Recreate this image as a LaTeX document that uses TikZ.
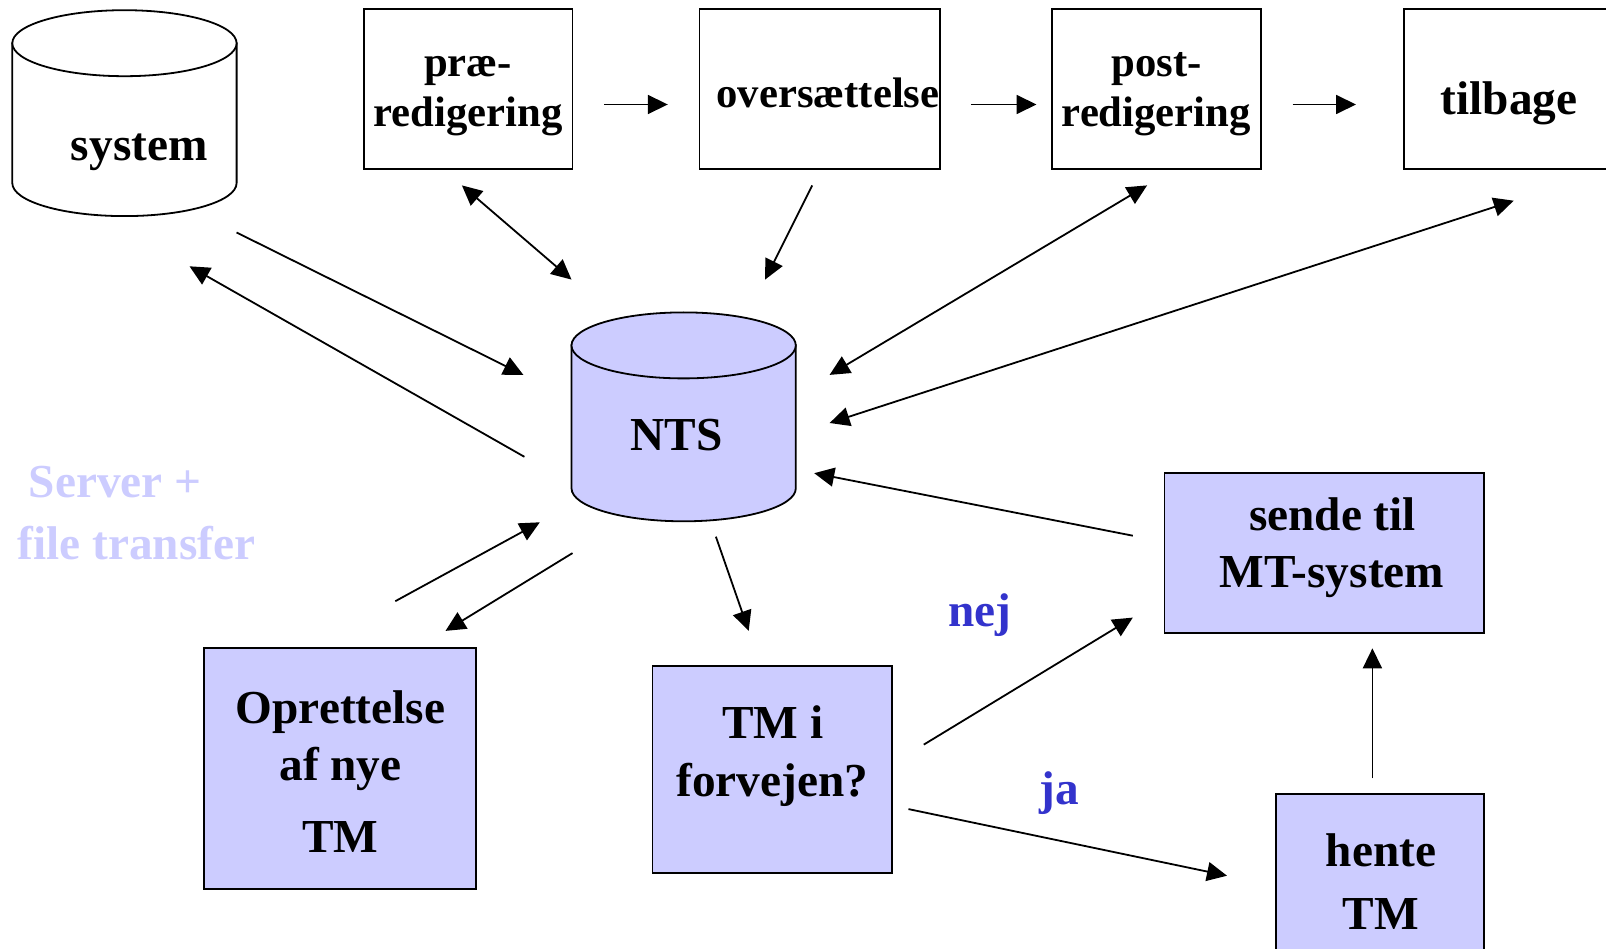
\documentclass[tikz,border=0pt]{standalone}
\usepackage{fontspec}
\setmainfont{Liberation Serif}
\usetikzlibrary{arrows.meta}
\definecolor{lav}{HTML}{CCCCFF}
\definecolor{lblue}{HTML}{3333CC}
\begin{document}
\begin{tikzpicture}[x=1pt,y=-1pt,
  box/.style={draw, line width=1.8pt, inner sep=0pt, fill=white},
  fbox/.style={box, fill=lav},
  cylline/.style={draw, line width=1.8pt},
  big/.style={font=\fontsize{47.3}{58}\selectfont\bfseries, inner sep=0pt, anchor=base},
  small/.style={font=\fontsize{42.7}{49}\selectfont\bfseries, inner sep=0pt, anchor=base},
  conn/.style={line width=1.8pt, -{Triangle[length=20pt,width=19pt]}},
  bconn/.style={line width=1.8pt, {Triangle[length=20pt,width=19pt]}-{Triangle[length=20pt,width=19pt]}},
]
\useasboundingbox (0,0) rectangle (1606,949);
\clip (0,0) rectangle (1606,949);

% system cylinder
\path[cylline, fill=white] (12.3,43.2) -- (12.3,183.1) .. controls (12.3,201.33) and (62.51,216.1) .. (124.45,216.1) .. controls (186.39,216.1) and (236.6,201.33) .. (236.6,183.1) -- (236.6,43.2) -- cycle;
\path[cylline, fill=white] (124.45,43.2) ellipse [x radius=112.15pt, y radius=33pt];
\node[big] (tsys) at (139.3,160.8) {system};

% NTS cylinder
\path[cylline, fill=lav] (571.5,345.4) -- (571.5,488.3) .. controls (571.5,506.53) and (621.71,521.3) .. (683.65,521.3) .. controls (745.59,521.3) and (795.8,506.53) .. (795.8,488.3) -- (795.8,345.4) -- cycle;
\path[cylline, fill=lav] (683.65,345.4) ellipse [x radius=112.15pt, y radius=33pt];
\node[big] (tnts) at (676.5,450.6) {NTS};

% top row boxes
\node[box, minimum width=208.9pt, minimum height=159.8pt] (pre) at (468.05,89.1) {};
\node[small] (tpre1) at (468,76.8) {præ-};
\node[small] (tpre2) at (468,127) {redigering};

\node[box, minimum width=240.7pt, minimum height=159.8pt] (over) at (819.85,89.1) {};
\node[small] (tover) at (828,107.5) {oversættelse};

\node[box, minimum width=208.9pt, minimum height=159.8pt] (post) at (1156.35,89.1) {};
\node[small] (tpost1) at (1156.8,76.8) {post-};
\node[small] (tpost2) at (1156.3,127) {redigering};

\node[box, minimum width=215.8pt, minimum height=159.8pt] (tilb) at (1512.1,89.1) {};
\node[big] (ttilb) at (1509,114.7) {tilbage};

% lower boxes
\node[fbox, minimum width=272.5pt, minimum height=240.7pt] (opr) at (340.05,768.65) {};
\node[big] (topr1) at (340.5,723) {Oprettelse};
\node[big] (topr2) at (340.5,780.4) {af nye};
\node[big] (topr3) at (340.5,852.1) {TM};

\node[fbox, minimum width=239.7pt, minimum height=206.9pt] (tmi) at (772.25,769.15) {};
\node[big] (ttmi1) at (772.8,738.4) {TM i};
\node[big] (ttmi2) at (772.3,796.8) {forvejen?};

\node[fbox, minimum width=319.6pt, minimum height=159.8pt] (sende) at (1324.3,553.1) {};
\node[big] (tsende1) at (1332.5,530.5) {sende til};
\node[big] (tsende2) at (1332,587.9) {MT-system};

\node[fbox, minimum width=207.9pt, minimum height=171.2pt] (hente) at (1380.15,879.4) {};
\node[big] (thente1) at (1381,866.5) {hente};
\node[big] (thente2) at (1380.6,929) {TM};

% labels
\node[big, anchor=base west, text=lav] (srv1) at (28.7,497.8) {Server +};
\node[big, anchor=base west, text=lav] (srv2) at (17.4,559.2) {file transfer};
\node[big, text=lblue] (nej) at (980,626.8) {nej};
\node[big, text=lblue] (ja) at (1059,804) {ja};

% connector end points
\coordinate (a1s) at (604.3,104.5);  \coordinate (a1e) at (667.8,104.5);
\coordinate (a2s) at (970.9,104.5);  \coordinate (a2e) at (1036.5,104.5);
\coordinate (a3s) at (1292.5,104.5); \coordinate (a3e) at (1356,104.5);
\coordinate (b1s) at (461.9,185.4);  \coordinate (b1e) at (571.5,279.6);
\coordinate (b2s) at (812.2,185.4);  \coordinate (b2e) at (765.1,279.6);
\coordinate (b3s) at (1147.1,185.4); \coordinate (b3e) at (829.6,374.9);
\coordinate (b4s) at (1513.7,200.7); \coordinate (b4e) at (829.6,423);
\coordinate (c1s) at (236.6,232.5);  \coordinate (c1e) at (523.4,374.9);
\coordinate (c2s) at (524.4,456.8);  \coordinate (c2e) at (189.5,266.3);
\coordinate (d1s) at (1132.8,535.7); \coordinate (d1e) at (814.2,473.2);
\coordinate (e1s) at (395.3,601.2);  \coordinate (e1e) at (539.8,522.3);
\coordinate (e2s) at (572.5,553.1);  \coordinate (e2e) at (445.5,630.9);
\coordinate (f1s) at (715.9,536.7);  \coordinate (f1e) at (748.7,630.9);
\coordinate (g1s) at (923.8,744.6);  \coordinate (g1e) at (1132.8,617.6);
\coordinate (g2s) at (908.5,809.1);  \coordinate (g2e) at (1227,875.7);
\coordinate (h1s) at (1372.4,778.4); \coordinate (h1e) at (1372.4,648.3);

\draw[conn] (a1s) -- (a1e);
\draw[conn] (a2s) -- (a2e);
\draw[conn] (a3s) -- (a3e);
\draw[bconn] (b1s) -- (b1e);
\draw[conn] (b2s) -- (b2e);
\draw[bconn] (b3s) -- (b3e);
\draw[bconn] (b4s) -- (b4e);
\draw[conn] (c1s) -- (c1e);
\draw[conn] (c2s) -- (c2e);
\draw[conn] (d1s) -- (d1e);
\draw[conn] (e1s) -- (e1e);
\draw[conn] (e2s) -- (e2e);
\draw[conn] (f1s) -- (f1e);
\draw[conn] (g1s) -- (g1e);
\draw[conn] (g2s) -- (g2e);
\draw[conn] (h1s) -- (h1e);
\end{tikzpicture}
\end{document}
